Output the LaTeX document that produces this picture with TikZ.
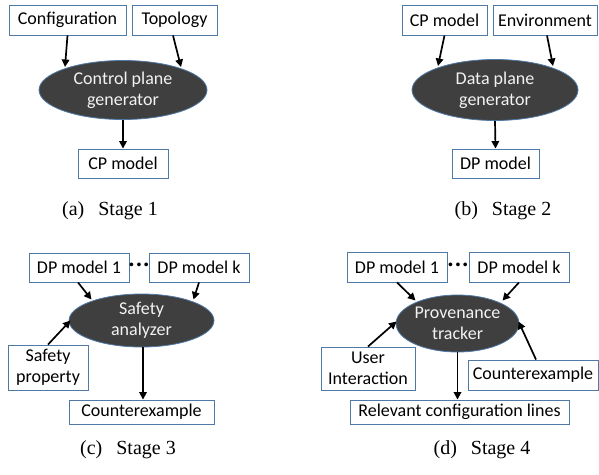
\documentclass[tikz,border=0pt]{standalone}
\usepackage{fontspec}
\setmainfont{Liberation Serif}
\newfontfamily\boxfont{Carlito}
\usetikzlibrary{arrows.meta,shapes.geometric}
\definecolor{boxc}{HTML}{4F7AA6}
\definecolor{ellfill}{HTML}{3F3F3F}
\definecolor{elltext}{HTML}{F2F2F2}
\begin{document}
\begin{tikzpicture}[x=1pt,y=-1pt,
  box/.style={draw=boxc,line width=0.9pt,fill=white,inner sep=0pt,align=center,
    font=\boxfont\fontsize{18}{21}\selectfont},
  gen/.style={ellipse,draw=boxc,line width=0.8pt,fill=ellfill,inner sep=0pt,align=center,
    text=elltext,font=\boxfont\fontsize{18}{21}\selectfont},
  arr/.style={line width=1.7pt,-{Triangle[length=7.5pt,width=7.5pt]}},
  captxt/.style={font=\fontsize{20}{22}\selectfont,inner sep=0pt},
  dotsn/.style={font=\boxfont\bfseries\fontsize{20}{20}\selectfont,inner sep=0pt}]
\useasboundingbox (0,0) rectangle (599,474);
% Stage 1
\node[box,minimum width=117pt,minimum height=30pt] (cfg) at (67.5,20) {Configuration};
\node[box,minimum width=85pt,minimum height=30pt] (topo) at (174.5,20) {Topology};
\node[gen,minimum width=168pt,minimum height=59pt] (g1) at (123,90) {Control plane\\generator};
\node[box,minimum width=90pt,minimum height=29pt] (cp) at (123,163.5) {CP model};
\draw[arr] (cfg.south) -- ([shift={(-58,-23)}]g1.center);
\draw[arr] ([xshift=-1.5pt]topo.south) -- ([shift={(58,-23)}]g1.center);
\draw[arr] (g1.south) -- (cp.north);
\node[captxt] (capa) at (110,211) {(a)\hspace{0.7em}Stage 1};
% Stage 2
\node[box,minimum width=85pt,minimum height=30pt] (cp2) at (444.5,20) {CP model};
\node[box,minimum width=104pt,minimum height=30pt] (env) at (545,20) {Environment};
\node[gen,minimum width=166pt,minimum height=61pt] (g2) at (495,90) {Data plane\\generator};
\node[box,minimum width=87pt,minimum height=29pt] (dp) at (495.5,163.5) {DP model};
\draw[arr] (cp2.south) -- ([shift={(-57,-24)}]g2.center);
\draw[arr] ([xshift=2pt]env.south) -- ([shift={(58,-24)}]g2.center);
\draw[arr] (g2.south) -- (dp.north);
\node[captxt] (capb) at (503,211) {(b)\hspace{0.7em}Stage 2};
% Stage 3
\node[box,minimum width=100pt,minimum height=29pt] (dpa) at (79,267.5) {DP model 1};
\node[box,minimum width=100pt,minimum height=29pt] (dpb) at (199,267.5) {DP model k};
\node[dotsn] (dots1) at (139,267) {·\kern2pt·\kern2pt·};
\node[gen,minimum width=145pt,minimum height=53pt] (sa) at (141.5,320.5) {Safety\\analyzer};
\node[box,minimum width=80pt,minimum height=45pt] (sp) at (48,367.5) {Safety\\property};
\node[box,minimum width=145pt,minimum height=24pt] (ce) at (141.5,412) {Counterexample};
\draw[arr] ([xshift=-1pt]dpa.south) -- ([shift={(-50,-21)}]sa.center);
\draw[arr] (dpb.south) -- ([shift={(52,-21)}]sa.center);
\draw[arr] (sp.north) -- ([shift={(-71,0)}]sa.center);
\draw[arr] ([xshift=1.5pt]sa.south) -- ([xshift=1.5pt]ce.north);
\node[captxt] (capc) at (128,450) {(c)\hspace{0.7em}Stage 3};
% Stage 4
\node[box,minimum width=100pt,minimum height=30pt] (dpc) at (397,267) {DP model 1};
\node[box,minimum width=100pt,minimum height=30pt] (dpd) at (519,267) {DP model k};
\node[dotsn] (dots2) at (458,267) {·\kern2pt·\kern2pt·};
\node[gen,minimum width=123pt,minimum height=57pt] (pt) at (457.5,323.5) {Provenance\\tracker};
\node[box,minimum width=94pt,minimum height=43pt] (ui) at (368,368.5) {User\\Interaction};
\node[box,minimum width=130pt,minimum height=30pt] (ce2) at (533,375) {Counterexample};
\node[box,minimum width=219pt,minimum height=24pt] (rel) at (459.5,412) {Relevant configuration lines};
\draw[arr] (dpc.south) -- ([shift={(-42,-23)}]pt.center);
\draw[arr] (dpd.south) -- ([shift={(45,-23)}]pt.center);
\draw[arr] (ui.north) -- ([shift={(-61,-2)}]pt.center);
\draw[arr] ([xshift=3pt]ce2.north) -- ([shift={(61,-2)}]pt.center);
\draw[arr] (pt.south) -- (pt.south |- rel.north);
\node[captxt] (capd) at (482,450) {(d)\hspace{0.7em}Stage 4};
\end{tikzpicture}
\end{document}
